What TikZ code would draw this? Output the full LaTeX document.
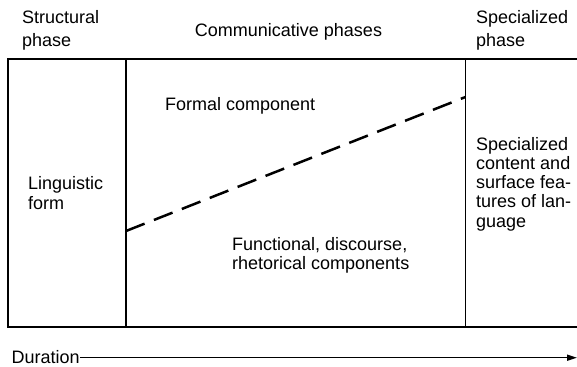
\documentclass[tikz,border=0pt]{standalone}
\usepackage{fontspec}
\setmainfont{Liberation Sans}
\usetikzlibrary{arrows.meta}
\begin{document}
\begin{tikzpicture}[x=1pt,y=-1pt,
  lbl/.style={inner sep=0pt,anchor=base west,align=left,font=\fontsize{18}{19.3}\selectfont},
  hdr/.style={lbl,font=\fontsize{18}{22.7}\selectfont},
  frame/.style={line width=1.8pt,line cap=rect},
  shiftline/.style={line width=2.5pt,dash pattern=on 20pt off 10pt},
  timeline/.style={line width=1.4pt,-{Triangle[length=10pt,width=6pt]}}]
\useasboundingbox (0,0) rectangle (577,366);
% frame coordinates
\coordinate (tl) at (8,59);
\coordinate (bl) at (8,327);
\coordinate (tr) at (577,59);
\coordinate (br) at (577,327);
\coordinate (d1t) at (126,59);
\coordinate (d1b) at (126,327);
\coordinate (d2t) at (465.5,59);
\coordinate (d2b) at (465.5,327);
\draw[frame] (tr) -- (tl) -- (bl) -- (br);
\draw[frame] (d1t) -- (d1b);
\draw[frame] (d2t) -- (d2b);
% headers (base anchor = baseline of last line)
\node[hdr] (structural) at (22,46.7) {Structural\\phase};
\node[hdr,anchor=base] (communicative) at (288.5,36.5) {Communicative phases};
\node[hdr] (specializedhdr) at (476,46.7) {Specialized\\phase};
% body texts
\node[lbl,font=\fontsize{18}{20}\selectfont] (linguistic) at (28,209.3) {Linguistic\\form};
\node[lbl] (formal) at (165,111) {Formal component};
\node[lbl,font=\fontsize{18}{18.5}\selectfont] (functional) at (232,269.3) {Functional, discourse,\\rhetorical components};
\node[lbl] (specialized) at (476,227.2) {Specialized\\content and\\surface fea-\\tures of lan-\\guage};
% dashed boundary
\coordinate (dashstart) at (126,231);
\coordinate (dashend) at (465.5,97);
\draw[shiftline] (dashstart) -- (dashend);
% duration axis
\node[lbl] (duration) at (11.5,363) {Duration};
\coordinate (axisend) at (577,357.7);
\draw[timeline] (duration.east |- axisend) -- (axisend);
\end{tikzpicture}
\end{document}
